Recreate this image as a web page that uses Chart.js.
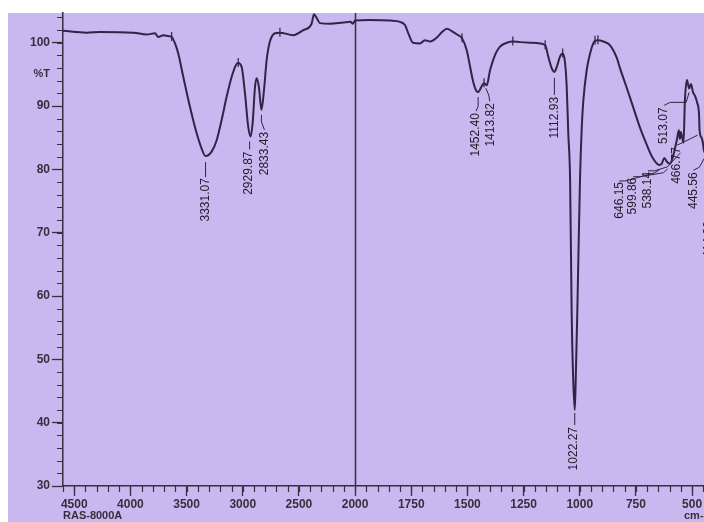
<!DOCTYPE html>
<html>
<head>
<meta charset="utf-8">
<script src="https://cdn.jsdelivr.net/npm/chart.js@4.4.1/dist/chart.umd.min.js"></script>
<style>
  html, body { margin: 0; padding: 0; background: #ffffff; }
  canvas { display: block; }
</style>
</head>
<body>
<canvas id="ir" width="704" height="522"></canvas>
<script>
// IR transmittance spectrum: wavenumber (cm-1) against %T
const wavenumbers = [
  4600, 4389, 4271, 3974, 3855, 3781, 3752, 3707, 3677, 3633, 3603, 3574, 3529, 3470, 3410, 3366,
  3331.07, 3277, 3232, 3188, 3143, 3099, 3060, 3040, 3010, 2980, 2951, 2929.87, 2912, 2891, 2876,
  2856, 2833.43, 2811, 2787, 2758, 2713, 2669, 2550, 2461, 2387, 2366, 2342, 2313, 2224, 2106,
  2040, 2020, 2000,
  1933, 1844, 1800, 1778, 1760, 1742, 1711, 1689, 1666, 1640, 1613, 1591, 1568, 1546, 1524,
  1503, 1488, 1474, 1462, 1452.40, 1444, 1434, 1426, 1413.82, 1399, 1377, 1355, 1325, 1298,
  1266, 1221, 1177, 1154, 1140, 1125, 1112.93, 1102, 1088, 1076, 1066, 1058, 1051, 1043, 1036,
  1029, 1022.27, 1018, 1011, 999, 991, 984, 969, 954, 940, 932, 919, 895, 865, 835, 821, 791,
  762, 732, 702, 678, 646.15, 635, 624, 612, 599.86, 568, 559, 554, 550, 538.14, 532, 523,
  513.07, 505, 496, 487, 478, 469, 466.77, 458, 452, 445.56, 430, 414.39, 400
];
const transmittance = [
  101.9, 101.6, 101.7, 101.6, 101.3, 101.5, 100.9, 101.2, 101.1, 100.9, 99.9, 98.3, 94.6, 89.9, 85.7, 83.3,
  82.1, 82.8, 84.6, 87.8, 91.5, 94.6, 96.5, 96.8, 96.2, 92.0, 86.7, 85.2, 87.3, 93.0, 94.4,
  93.0, 89.4, 92.5, 97.3, 100.2, 101.5, 101.6, 101.2, 102.0, 103.0, 104.5, 103.9, 103.1, 103.0, 103.2,
  103.3, 103.0, 103.5,
  103.6, 103.5, 103.3, 102.8, 101.2, 100.0, 99.9, 100.4, 100.2, 100.7, 101.7, 102.2, 101.8, 101.3, 100.7,
  98.8, 96.2, 93.8, 92.5, 92.2, 92.6, 93.3, 93.6, 93.3, 95.7, 98.1, 99.4, 100.0, 100.2,
  100.1, 100.0, 99.9, 99.6, 97.8, 96.0, 95.4, 96.2, 97.8, 98.3, 97.0, 93.0, 85.7, 78.3, 57.3,
  46.7, 42.0, 46.7, 57.3, 78.3, 86.7, 90.9, 95.7, 98.3, 99.9, 100.3, 100.4, 100.2, 99.6, 97.6, 96.0, 92.9,
  89.8, 86.6, 83.9, 82.0, 80.7, 80.9, 81.8, 81.2, 80.9, 84.6, 86.2, 84.8, 85.9, 84.2, 90.9, 94.1,
  92.8, 93.5, 92.2, 91.6, 90.6, 88.6, 86.2, 85.0, 84.2, 82.7, 84.0, 81.0, 83.0
];
const peakLabels = [
  '3331.07', '2929.87', '2833.43', '1452.40', '1413.82', '1112.93', '1022.27',
  '646.15', '599.86', '538.14', '513.07', '466.77', '445.56', '414.39'
];
const baselineMarks = [3633, 3040, 2669, 1524, 1426, 1298, 1154, 1076, 932, 919];
const xTickLabels = [4500, 4000, 3500, 3000, 2500, 2000, 1750, 1500, 1250, 1000, 750, 500];
const yTickLabels = [30, 40, 50, 60, 70, 80, 90, 100];

// The wavenumber axis runs 4600 -> 400 with the part above 2000 drawn at half scale.
const START = 4600, BREAK = 2000;
function toAxis(w) {
  return w >= BREAK ? (START - w) / 2 : (START - BREAK) / 2 + (BREAK - w);
}

// Placement of each peak caption: text column top (dx, dy) and leader path,
// in pixels relative to the peak point.
const labelPlacement = {
  '3331.07': { dx: 0,    dy: 22, path: [[0, 6], [0, 21]] },
  '2929.87': { dx: -1.5, dy: 15, path: [[-1, 5], [-1, 13]] },
  '2833.43': { dx: 3.5,  dy: 22, path: [[0, 5], [0, 12], [3, 20]] },
  '1452.40': { dx: -2.5, dy: 21, path: [[0, 5], [0, 14], [-2, 19]] },
  '1413.82': { dx: 3.5,  dy: 18, path: [[-1, 3], [2, 10], [3, 16]] },
  '1112.93': { dx: 0,    dy: 25, path: [[0, 6], [0, 23]] },
  '1022.27': { dx: -1.5, dy: 17, path: [[0, 3], [0, 15]] },
  '646.15':  { dx: -40,  dy: 17, path: [[-40, 16], [-34, 16], [-5, 8], [0, 5]] },
  '599.86':  { dx: -36.5, dy: 14, path: [[-36.5, 13], [-30, 13], [-6, 9], [-2, 5]] },
  '538.14':  { dx: -35.5, dy: 29, path: [[-35.5, 28], [-29, 28], [-16, 24], [-3, 10]] },
  '513.07':  { dx: -25,  dy: 19, path: [[-25, 17], [-19, 14], [-3, 14], [0, 4]] },
  '466.77':  { dx: -22.5, dy: 17, path: [[-22.5, 15], [-16, 12], [-2, 5]] },
  '445.56':  { dx: -11,  dy: 20, path: [[-11, 18], [-5, 15], [0, 6]] },
  '414.39':  { dx: -3,   dy: 58, path: [[-3, 56], [0, 10]] }
};

const PURPLE = '#c9b7ef';
const INK = '#2d2545';
const AXIS = '#35303f';
const TEXT = '#34303c';
const SANS = '"Liberation Sans", Arial, sans-serif';
const NARROW = '"Liberation Sans Narrow", "Liberation Sans", Arial, sans-serif';

const points = wavenumbers.map((w, i) => ({ x: toAxis(w), y: transmittance[i] }));

function valueAt(w) {
  const i = wavenumbers.indexOf(w);
  return transmittance[i];
}

const decorations = {
  id: 'decorations',
  beforeDraw(chart) {
    const c = chart.ctx;
    c.save();
    c.fillStyle = '#ffffff';
    c.fillRect(0, 0, chart.width, chart.height);
    c.fillStyle = PURPLE;
    c.fillRect(8, 13, chart.width - 8, chart.height - 13);
    c.restore();
  },
  beforeDatasetsDraw(chart) {
    const c = chart.ctx, xs = chart.scales.x, ys = chart.scales.y, a = chart.chartArea;
    c.save();
    c.strokeStyle = AXIS;
    c.lineWidth = 1.2;
    // minor ticks on both axes
    c.beginPath();
    for (let u = 0; u <= xs.max; u += 50) {
      const px = Math.round(xs.getPixelForValue(u)) + 0.5;
      c.moveTo(px, a.bottom);
      c.lineTo(px, a.bottom + 6);
    }
    for (let v = 30; v <= ys.max; v += 2) {
      const py = Math.round(ys.getPixelForValue(v)) + 0.5;
      c.moveTo(a.left - 6, py);
      c.lineTo(a.left, py);
    }
    c.stroke();
    // scale break at 2000 cm-1
    const bx = Math.round(xs.getPixelForValue(toAxis(BREAK))) + 0.5;
    c.lineWidth = 1.5;
    c.beginPath();
    c.moveTo(bx, a.top);
    c.lineTo(bx, a.bottom);
    c.stroke();
    c.restore();
  },
  afterDatasetsDraw(chart) {
    const c = chart.ctx, xs = chart.scales.x, ys = chart.scales.y;
    c.save();
    // short baseline marks on the trace
    c.strokeStyle = INK;
    c.lineWidth = 1.2;
    c.beginPath();
    baselineMarks.forEach(w => {
      const px = xs.getPixelForValue(toAxis(w));
      const py = ys.getPixelForValue(valueAt(w));
      c.moveTo(px, py - 5);
      c.lineTo(px, py + 4);
    });
    c.stroke();

    // peak captions with leaders
    c.fillStyle = '#24202c';
    c.font = '12px ' + NARROW;
    c.lineWidth = 1;
    peakLabels.forEach(txt => {
      const w = parseFloat(txt);
      const px = xs.getPixelForValue(toAxis(w));
      const py = ys.getPixelForValue(valueAt(w));
      const p = labelPlacement[txt];
      c.beginPath();
      p.path.forEach(([dx, dy], k) => {
        if (k === 0) c.moveTo(px + dx, py + dy); else c.lineTo(px + dx, py + dy);
      });
      c.stroke();
      c.save();
      c.translate(px + p.dx, py + p.dy);
      c.rotate(-Math.PI / 2);
      c.textAlign = 'right';
      c.textBaseline = 'middle';
      c.fillText(txt, 0, 0);
      c.restore();
    });
    c.restore();
  },
  afterDraw(chart) {
    const c = chart.ctx, a = chart.chartArea;
    c.save();
    c.fillStyle = TEXT;
    c.font = 'bold 11px ' + SANS;
    c.textAlign = 'right';
    c.textBaseline = 'middle';
    c.fillText('%T', a.left - 13, 74);
    c.textAlign = 'left';
    c.font = 'bold 11px ' + SANS;
    c.fillText('RAS-8000A', 63, 516);
    c.fillText('cm-1', 684, 516);
    c.restore();
  }
};

new Chart(document.getElementById('ir'), {
  type: 'line',
  data: {
    datasets: [{
      data: points,
      borderColor: INK,
      borderWidth: 2,
      pointRadius: 0,
      fill: false,
      cubicInterpolationMode: 'monotone'
    }]
  },
  options: {
    responsive: false,
    animation: false,
    events: [],
    layout: { padding: { top: 13, left: 0, right: 0, bottom: 0 } },
    plugins: { legend: { display: false }, tooltip: { enabled: false } },
    scales: {
      x: {
        type: 'linear',
        min: 0,
        max: 2853,
        afterBuildTicks(scale) {
          scale.ticks = xTickLabels.map(w => ({ value: toAxis(w) }));
        },
        afterFit(scale) {
          scale.height = 36;
          scale.paddingLeft = 0;
          scale.paddingRight = 0;
        },
        ticks: {
          autoSkip: false,
          maxRotation: 0,
          padding: 1,
          color: TEXT,
          font: { family: SANS, size: 12, weight: 'bold' },
          callback: (v, i) => String(xTickLabels[i])
        },
        grid: { drawOnChartArea: false, tickLength: 10, tickColor: AXIS, tickWidth: 1.3 },
        border: { color: AXIS, width: 1.5 }
      },
      y: {
        min: 30,
        max: 104.7,
        afterBuildTicks(scale) {
          scale.ticks = yTickLabels.map(v => ({ value: v }));
        },
        afterFit(scale) {
          scale.width = 63;
          scale.paddingTop = 0;
          scale.paddingBottom = 0;
        },
        ticks: {
          autoSkip: false,
          padding: 2,
          color: TEXT,
          font: { family: SANS, size: 12, weight: 'bold' },
          callback: (v, i) => String(yTickLabels[i])
        },
        grid: { drawOnChartArea: false, tickLength: 11, tickColor: AXIS, tickWidth: 1.3 },
        border: { color: AXIS, width: 1.5 }
      }
    }
  },
  plugins: [decorations]
});
</script>
</body>
</html>
